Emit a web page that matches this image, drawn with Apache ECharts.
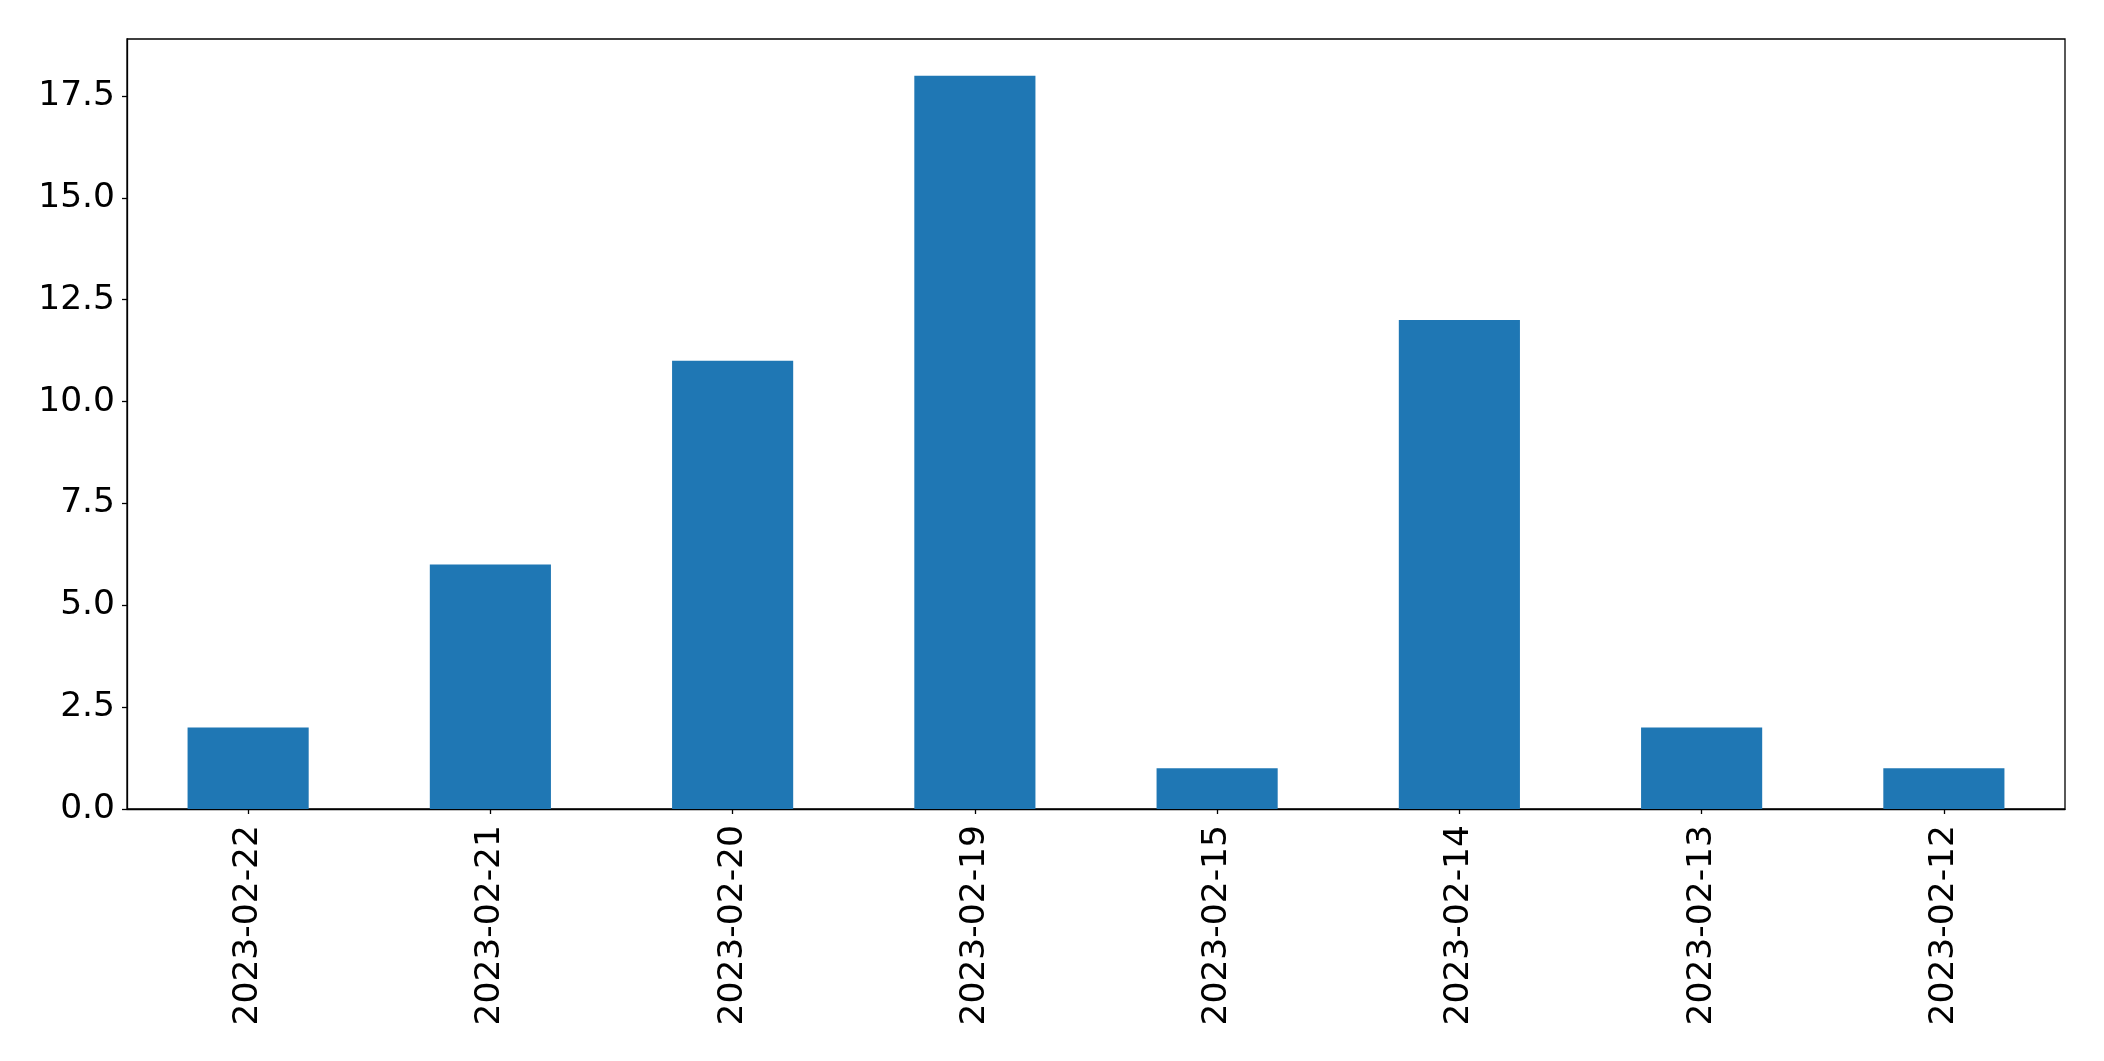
<!DOCTYPE html>
<html>
<head>
<meta charset="utf-8">
<script src="https://cdn.jsdelivr.net/npm/echarts@6/dist/echarts.min.js"></script>
<style>
html,body{margin:0;padding:0;background:#fff;}
#chart{width:2104px;height:1061px;}
</style>
</head>
<body>
<div id="chart"></div>
<script>
const categories = ['2023-02-22','2023-02-21','2023-02-20','2023-02-19','2023-02-15','2023-02-14','2023-02-13','2023-02-12'];
const values = [2, 6, 11, 18, 1, 12, 2, 1];
const yTicks = [0, 2.5, 5, 7.5, 10, 12.5, 15, 17.5];
const yMax = 18.9;

const chart = echarts.init(document.getElementById('chart'), null, {renderer: 'canvas'});
const font = 'DejaVu Sans';
chart.setOption({
  animation: false,
  backgroundColor: '#ffffff',
  grid: {
    left: 127, right: 39, top: 39, bottom: 252,
    show: true, borderColor: '#000', borderWidth: 1.3, backgroundColor: 'transparent'
  },
  xAxis: {
    type: 'category',
    data: categories,
    axisLine: {lineStyle: {color: '#000', width: 1.3}},
    axisTick: {show: true, alignWithLabel: true, length: 5, lineStyle: {color: '#000', width: 1.3}},
    axisLabel: {rotate: 90, margin: 16, color: '#000', fontFamily: font, fontSize: 34.5, interval: 0}
  },
  yAxis: {
    type: 'value',
    min: 0, max: yMax,
    splitLine: {show: false},
    axisLine: {show: true, lineStyle: {color: '#000', width: 1.3}},
    axisTick: {show: true, length: 5, customValues: yTicks, lineStyle: {color: '#000', width: 1.3}},
    axisLabel: {
      customValues: yTicks,
      margin: 12, color: '#000', fontFamily: font, fontSize: 34.5,
      padding: [6, 0, 0, 0],
      formatter: v => Number(v).toFixed(1)
    }
  },
  series: [{
    type: 'bar',
    data: values,
    barWidth: '50%',
    itemStyle: {color: '#1f77b4'}
  }]
});
</script>
</body>
</html>
